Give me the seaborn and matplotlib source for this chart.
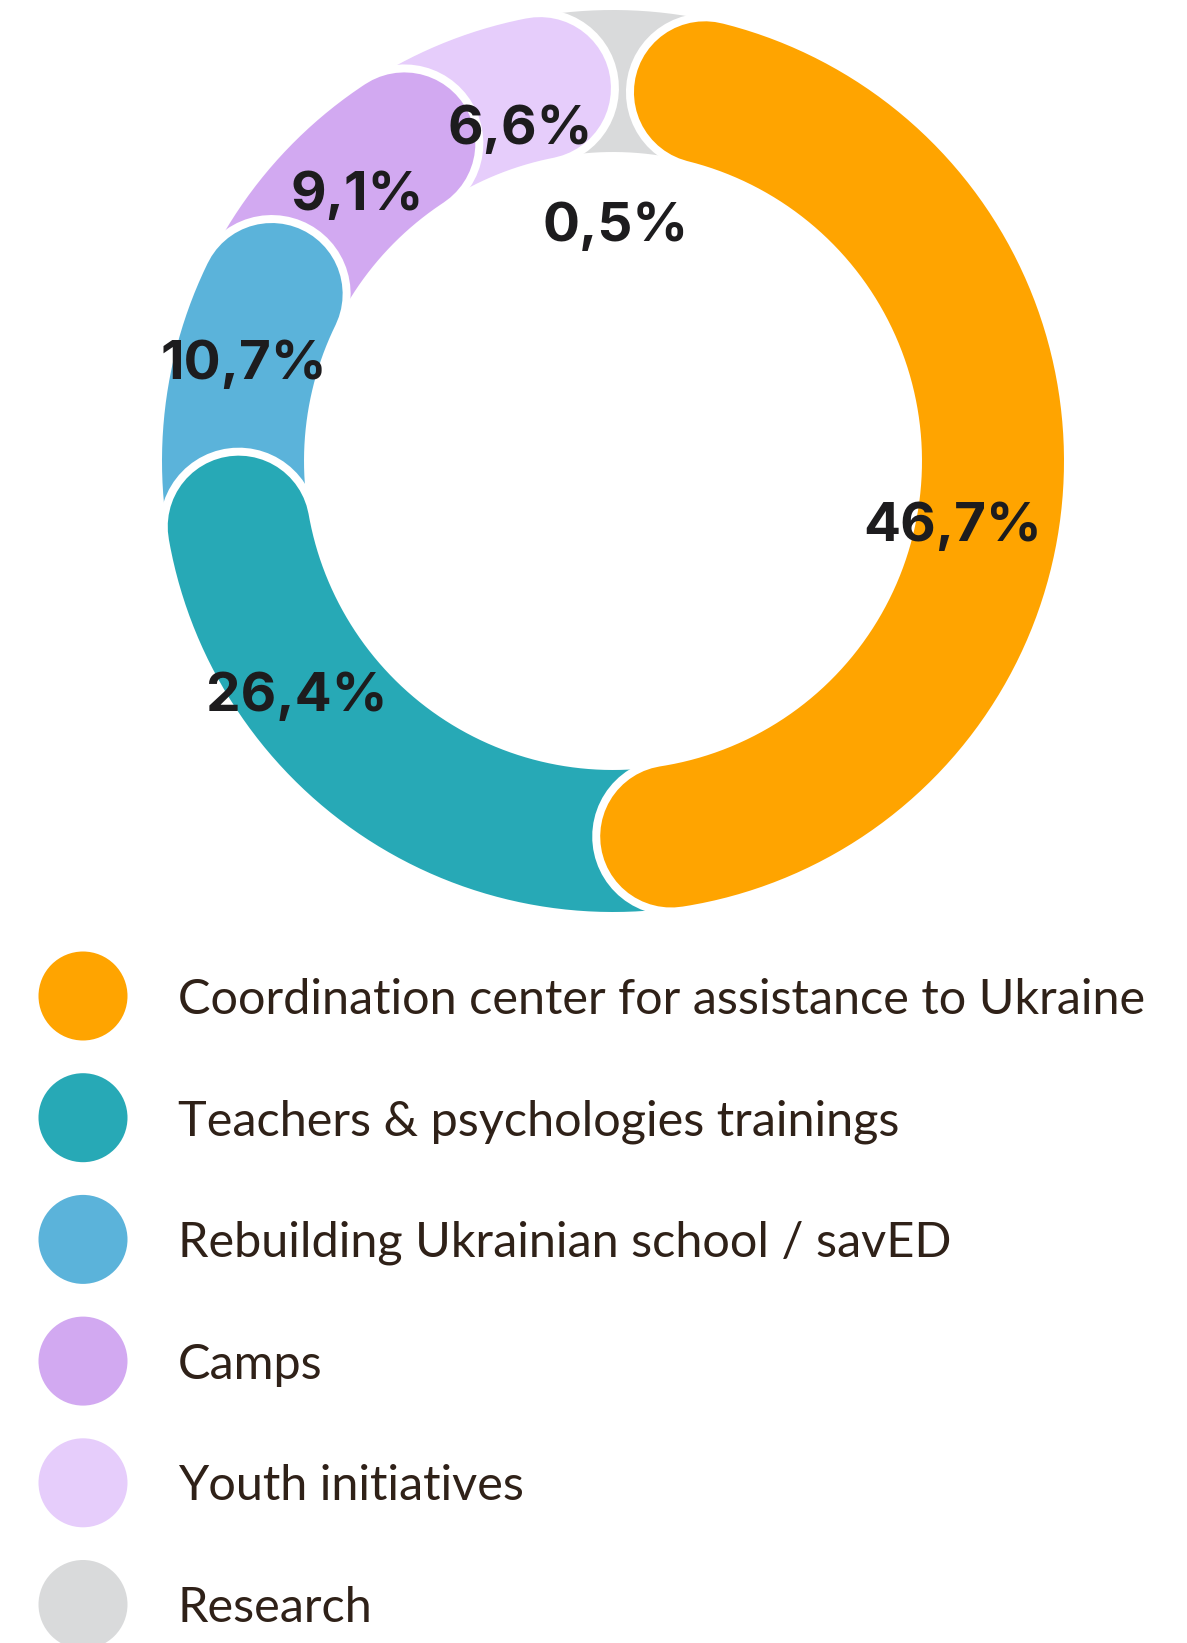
import numpy as np
import pandas as pd
import matplotlib
matplotlib.use('Agg')
import matplotlib.pyplot as plt
import matplotlib.patheffects as pe
import seaborn as sns

# data
categories = ['Coordination center for assistance to Ukraine',
              'Teachers & psychologies trainings',
              'Rebuilding Ukrainian school / savED',
              'Camps',
              'Youth initiatives',
              'Research']
shares = [46.7, 26.4, 10.7, 9.1, 6.6, 0.5]
pct_labels = ['46,7%', '26,4%', '10,7%', '9,1%', '6,6%', '0,5%']
colors = ['#FFA400', '#27A9B6', '#5BB3DA', '#D2A9F1', '#E6CDFB', '#D9DADB']

# layout of the percent labels: (angle clockwise from top, radius in px)
label_pos = [(100, 345), (234, 391), (285.6, 383), (316.7, 373), (344.7, 350), (0.5, 241)]

sns.set_theme(style='white')
plt.rcParams['font.family'] = ['Lato', 'DejaVu Sans']

W, H = 1187, 1643
fig = plt.figure(figsize=(W / 100, H / 100), dpi=100)
ax = fig.add_axes([0, 0, 1, 1])

cx, cy = 613, 461          # ring centre (px)
r_mid = 380                # ring mid radius (px)
ring_px = 142              # ring thickness (px)
gap_px = 8                 # white gap around each segment
start = 14                 # first segment start angle
squeeze = 0.935            # share of the circle used by the segments

px2pt = 72 / 100
cum = np.concatenate([[0], np.cumsum(shares)])
bounds = start + cum * 3.6 * squeeze
bounds[-1] = start + 360   # last (tiny) slice closes the ring

# draw back to front so every segment's rounded end sits on the next one
for i in reversed(range(len(shares))):
    th = np.radians(np.linspace(bounds[i], bounds[i + 1], 300))
    df = pd.DataFrame({'x': cx + r_mid * np.sin(th), 'y': cy - r_mid * np.cos(th)})
    sns.lineplot(data=df, x='x', y='y', sort=False, estimator=None, ax=ax,
                 color=colors[i], linewidth=ring_px * px2pt, solid_capstyle='round',
                 path_effects=[pe.Stroke(linewidth=(ring_px + 2 * gap_px) * px2pt,
                                         foreground='white'), pe.Normal()],
                 zorder=10 - i)

# percent labels
for (ang, rad), lbl in zip(label_pos, pct_labels):
    a = np.radians(ang)
    ax.text(cx + rad * np.sin(a), cy - rad * np.cos(a) + 20.5, lbl,
            ha='center', va='baseline', fontsize=39.5, fontweight='bold',
            family=['Inter', 'DejaVu Sans'], color='#1d1c1e', zorder=20)

# legend
leg_y = 996 + np.arange(len(categories)) * 121.7
leg = pd.DataFrame({'x': 83, 'y': leg_y, 'cat': categories})
sns.scatterplot(data=leg, x='x', y='y', hue='cat', palette=colors, s=(89 * px2pt) ** 2,
                linewidth=0, legend=False, ax=ax, zorder=5)
for y, cat in zip(leg_y, categories):
    ax.text(178, y + 17.5, cat, ha='left', va='baseline', fontsize=35,
            color='#2f2118')

ax.set_xlim(0, W)
ax.set_ylim(H, 0)
ax.set_axis_off()
fig.savefig('out.png', dpi=100, facecolor='white')
